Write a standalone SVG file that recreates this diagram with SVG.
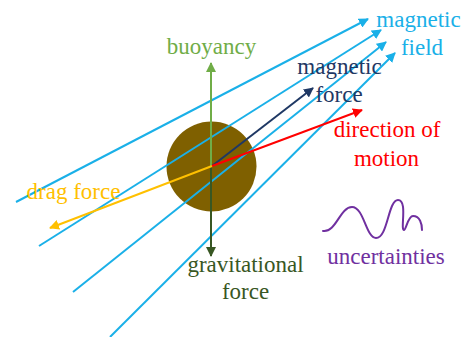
<svg xmlns="http://www.w3.org/2000/svg" width="467" height="337" viewBox="0 0 467 337">
<style>
text{font-family:"Liberation Serif","Times New Roman",serif;font-size:23px;text-anchor:middle}
.fl{stroke:#1AB0E8;stroke-width:2;fill:none}
</style>
<defs>
<marker id="hb" viewBox="0 0 10 10" refX="9" refY="5" markerWidth="5" markerHeight="5" orient="auto" markerUnits="strokeWidth"><path d="M0,0L10,5L0,10z" fill="#1AB0E8"/></marker>
<marker id="hg" viewBox="0 0 10 10" refX="9" refY="5" markerWidth="5" markerHeight="5" orient="auto" markerUnits="strokeWidth"><path d="M0,0L10,5L0,10z" fill="#70AD47"/></marker>
<marker id="hd" viewBox="0 0 10 10" refX="9" refY="5" markerWidth="5" markerHeight="5" orient="auto" markerUnits="strokeWidth"><path d="M0,0L10,5L0,10z" fill="#385723"/></marker>
<marker id="hn" viewBox="0 0 10 10" refX="9" refY="5" markerWidth="5" markerHeight="5" orient="auto" markerUnits="strokeWidth"><path d="M0,0L10,5L0,10z" fill="#1F3864"/></marker>
<marker id="hr" viewBox="0 0 10 10" refX="9" refY="5" markerWidth="5" markerHeight="5" orient="auto" markerUnits="strokeWidth"><path d="M0,0L10,5L0,10z" fill="#FF0000"/></marker>
<marker id="ho" viewBox="0 0 10 10" refX="9" refY="5" markerWidth="5" markerHeight="5" orient="auto" markerUnits="strokeWidth"><path d="M0,0L10,5L0,10z" fill="#FFC000"/></marker>
</defs>
<g id="particle"><circle cx="211.5" cy="166.5" r="45" fill="#7F6000"/></g>
<g id="connectors">
<line class="fl" x1="16" y1="202" x2="368" y2="19" marker-end="url(#hb)"/>
<line class="fl" x1="39" y1="246" x2="381" y2="30" marker-end="url(#hb)"/>
<line class="fl" x1="73" y1="292" x2="386" y2="42" marker-end="url(#hb)"/>
<line class="fl" x1="110" y1="337" x2="395" y2="53" marker-end="url(#hb)"/>
<line x1="211" y1="166" x2="211" y2="63" stroke="#70AD47" stroke-width="2" marker-end="url(#hg)"/>
<line x1="211" y1="166" x2="211" y2="256" stroke="#385723" stroke-width="2" marker-end="url(#hd)"/>
<line x1="212" y1="166" x2="313" y2="88" stroke="#1F3864" stroke-width="2" marker-end="url(#hn)"/>
<line x1="212" y1="166" x2="362" y2="110" stroke="#FF0000" stroke-width="2" marker-end="url(#hr)"/>
<line x1="212" y1="166" x2="50" y2="228" stroke="#FFC000" stroke-width="2" marker-end="url(#ho)"/>
</g>
<g id="uncertainties">
<path d="M323,231 C336,233 340,207 352,207 C364,207 366,238 376,238 C388,238 388,200 398,200 C408,200 400,230 404,230 C406,230 408,216 413,216 C420,216 422,224 422,230" fill="none" stroke="#7030A0" stroke-width="2" stroke-linecap="round"/>
<text x="386" y="264" fill="#7030A0">uncertainties</text>
</g>
<g id="labels">
<text x="211.5" y="54" fill="#70AD47">buoyancy</text>
<text x="418.5" y="27" fill="#1AB0E8">magnetic</text>
<text x="422" y="55" fill="#1AB0E8">field</text>
<text x="339.5" y="74" fill="#1F3864">magnetic</text>
<text x="339" y="102" fill="#1F3864">force</text>
<text x="387" y="137" fill="#FF0000">direction of</text>
<text x="386.5" y="166" fill="#FF0000">motion</text>
<text x="73.5" y="199" fill="#FFC000">drag force</text>
<text x="245.5" y="272" fill="#385723">gravitational</text>
<text x="245.5" y="299" fill="#385723">force</text>
</g>
</svg>
